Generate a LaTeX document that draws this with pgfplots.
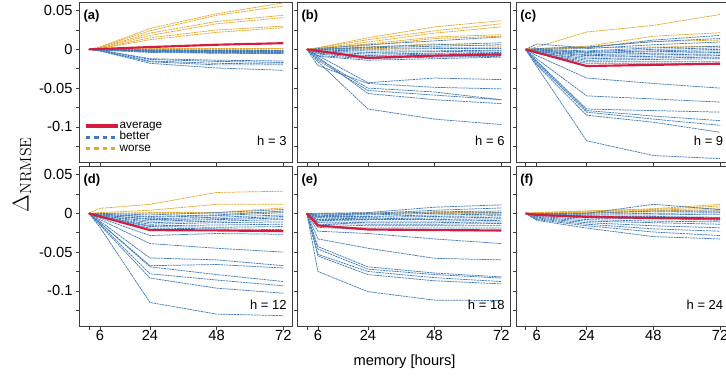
\documentclass[border=0pt]{standalone}
\usepackage[no-math]{fontspec}
\setmainfont{Liberation Sans}
\usepackage{pgfplots}
\pgfplotsset{compat=1.18}

\definecolor{avgred}{RGB}{214,28,62}
\definecolor{betterblue}{RGB}{66,124,184}
\definecolor{worseorange}{RGB}{228,166,38}
\definecolor{framegray}{RGB}{60,60,60}

\pgfplotsset{
  panel/.style={
    scale only axis, width=160.1pt, height=120pt, anchor=south west,
    xmin=-1.44, xmax=75.4, ymin=-0.146, ymax=0.0605,
    xtick={2,6,24,48,72},
    ytick={-0.125,-0.1,-0.075,-0.05,-0.025,0,0.025,0.05},
    xticklabels={}, yticklabels={},
    tick align=outside, tick pos=left, major tick length=2.3pt,
    axis line style={draw=framegray, line width=0.7pt},
    every tick/.style={draw=framegray, line width=0.5pt},
    tick label style={font=\fontsize{11}{13}\selectfont},
    xticklabel style={inner sep=0.3pt},
    yticklabel style={inner sep=0pt, xshift=-2.6pt},
  },
  bottomrow/.style={xticklabels={,6,24,48,72}},
  leftcol/.style={yticklabels={,-0.1,,-0.05,,0,,0.05}},
  better/.style={draw=betterblue, line width=0.55pt, dash pattern=on 1.6pt off 0.5pt, forget plot},
  worse/.style={draw=worseorange, line width=0.55pt, dash pattern=on 1.6pt off 0.5pt, forget plot},
  average/.style={draw=avgred, line width=1.6pt, forget plot},
}

% one curve per station: Delta at memory 2, 6, 24, 48, 72 h
\newcommand{\B}[4]{\addplot[better] coordinates {(2,0) (6,#1) (24,#2) (48,#3) (72,#4)};}
\newcommand{\W}[4]{\addplot[worse] coordinates {(2,0) (6,#1) (24,#2) (48,#3) (72,#4)};}
\newcommand{\A}[4]{\addplot[average] coordinates {(2,0) (6,#1) (24,#2) (48,#3) (72,#4)};}
\newcommand{\panellabel}[2]{%
  \node[anchor=north west, inner sep=0pt, font=\bfseries\fontsize{9.75}{11}\selectfont]
    at (rel axis cs:0,1) [xshift=3pt, yshift=-5.6pt] {#1};
  \node[anchor=base east, inner sep=0pt, font=\fontsize{9.75}{11}\selectfont]
    at (rel axis cs:1,0) [xshift=-4.5pt, yshift=12.4pt] {h = #2};}

\begin{document}
\begin{tikzpicture}

% ---------------- (a) h = 3
\begin{axis}[panel, leftcol, at={(59.475pt,162.375pt)},
  legend cell align=left,
  legend style={at={(rel axis cs:0,0)}, anchor=south west, xshift=3.5pt, yshift=6pt,
    draw=none, fill=none, inner sep=0pt, row sep=0pt,
    font=\fontsize{8.8}{9}\selectfont,
    nodes={inner sep=0pt, text height=6.3pt, text depth=2.2pt}},
  legend image code/.code={\draw[#1] (0pt,0pt) -- (24pt,0pt);},
  /tikz/every even column/.append style={column sep=4.3pt}]
\addlegendimage{draw=avgred, line width=2.6pt}
\addlegendentry{average}
\addlegendimage{draw=betterblue, line width=2.5pt, dash pattern=on 3.2pt off 3pt}
\addlegendentry{better}
\addlegendimage{draw=worseorange, line width=2.5pt, dash pattern=on 3.2pt off 3pt}
\addlegendentry{worse}
\W{0.003}{0.027}{0.046}{0.060}
\W{0.003}{0.024}{0.044}{0.056}
\W{0.002}{0.021}{0.036}{0.044}
\W{0.002}{0.018}{0.033}{0.041}
\W{0.001}{0.015}{0.025}{0.030}
\W{0.001}{0.0125}{0.022}{0.028}
\W{0.000}{0.001}{0.001}{0.001}
\W{0.000}{0.0005}{0.0005}{0.0008}
\B{0.000}{-0.0005}{-0.0008}{-0.001}
\B{0.000}{-0.001}{-0.001}{-0.0015}
\B{-0.0002}{-0.001}{-0.0015}{-0.002}
\B{-0.0003}{-0.0015}{-0.002}{-0.0025}
\B{-0.0003}{-0.002}{-0.0025}{-0.003}
\B{-0.0004}{-0.002}{-0.003}{-0.0035}
\B{-0.0005}{-0.0025}{-0.0035}{-0.004}
\B{-0.0005}{-0.003}{-0.004}{-0.0045}
\B{-0.0006}{-0.003}{-0.0045}{-0.005}
\B{-0.0008}{-0.004}{-0.005}{-0.0055}
\B{-0.001}{-0.012}{-0.014}{-0.015}
\B{-0.001}{-0.013}{-0.0155}{-0.017}
\B{-0.0015}{-0.015}{-0.018}{-0.019}
\B{-0.002}{-0.016}{-0.020}{-0.020}
\B{-0.002}{-0.018}{-0.024}{-0.027}
\A{0.0005}{0.003}{0.006}{0.008}
\panellabel{(a)}{3}
\end{axis}

% ---------------- (b) h = 6
\begin{axis}[panel, at={(222.975pt,162.375pt)}]
\W{0.002}{0.015}{0.029}{0.037}
\W{0.002}{0.0125}{0.024}{0.033}
\W{0.001}{0.0095}{0.021}{0.029}
\W{0.001}{0.007}{0.016}{0.019}
\W{0.001}{0.005}{0.014}{0.017}
\W{0.000}{0.003}{0.007}{0.004}
\W{0.000}{0.001}{0.002}{0.002}
\B{0.001}{0.006}{0.011}{0.016}
\B{0.000}{0.003}{0.006}{0.0085}
\B{0.000}{0.002}{0.004}{0.006}
\B{0.000}{0.000}{0.001}{0.001}
\B{-0.001}{-0.002}{-0.002}{-0.001}
\B{-0.002}{-0.004}{-0.003}{-0.002}
\B{-0.003}{-0.006}{-0.005}{-0.004}
\B{-0.004}{-0.008}{-0.006}{-0.005}
\B{-0.005}{-0.009}{-0.008}{-0.007}
\B{-0.006}{-0.011}{-0.009}{-0.008}
\B{-0.008}{-0.012}{-0.010}{-0.009}
\B{-0.009}{-0.014}{-0.012}{-0.010}
\B{-0.008}{-0.043}{-0.037}{-0.039}
\B{-0.021}{-0.044}{-0.049}{-0.051}
\B{-0.012}{-0.050}{-0.055}{-0.065}
\B{-0.014}{-0.053}{-0.059}{-0.065}
\B{-0.010}{-0.057}{-0.065}{-0.070}
\B{-0.016}{-0.077}{-0.090}{-0.097}
\A{-0.002}{-0.011}{-0.008}{-0.0065}
\panellabel{(b)}{6}
\end{axis}

% ---------------- (c) h = 9
\begin{axis}[panel, at={(387pt,162.375pt)}]
\W{0.003}{0.0224}{0.031}{0.045}
\W{0.001}{0.004}{0.017}{0.0215}
\W{0.001}{0.003}{0.010}{0.012}
\W{0.000}{0.002}{0.003}{0.004}
\B{0.007}{0.002}{0.012}{0.018}
\B{0.001}{0.003}{0.010}{0.014}
\B{0.000}{0.001}{0.006}{0.0095}
\B{0.000}{-0.002}{0.002}{0.004}
\B{-0.001}{-0.003}{0.000}{0.002}
\B{-0.001}{-0.004}{-0.002}{0.000}
\B{-0.002}{-0.005}{-0.003}{-0.002}
\B{-0.002}{-0.007}{-0.005}{-0.004}
\B{-0.003}{-0.008}{-0.007}{-0.006}
\B{-0.003}{-0.010}{-0.009}{-0.008}
\B{-0.004}{-0.012}{-0.011}{-0.010}
\B{-0.004}{-0.014}{-0.013}{-0.012}
\B{-0.005}{-0.016}{-0.016}{-0.016}
\B{-0.005}{-0.018}{-0.018}{-0.018}
\B{-0.008}{-0.037}{-0.044}{-0.050}
\B{-0.012}{-0.060}{-0.064}{-0.068}
\B{-0.015}{-0.077}{-0.079}{-0.081}
\B{-0.016}{-0.079}{-0.086}{-0.092}
\B{-0.018}{-0.081}{-0.090}{-0.098}
\B{-0.020}{-0.085}{-0.094}{-0.107}
\B{-0.022}{-0.118}{-0.137}{-0.141}
\A{-0.004}{-0.0215}{-0.020}{-0.0185}
\panellabel{(c)}{9}
\end{axis}

% ---------------- (d) h = 12
\begin{axis}[panel, leftcol, bottomrow, at={(59.475pt,39.375pt)}]
\W{0.0065}{0.0117}{0.027}{0.0286}
\W{0.001}{0.004}{0.0117}{0.0117}
\W{0.000}{0.001}{0.001}{0.007}
\W{0.000}{0.000}{0.000}{0.002}
\B{0.000}{-0.002}{0.001}{0.005}
\B{-0.001}{-0.004}{-0.002}{0.003}
\B{-0.001}{-0.005}{-0.003}{0.001}
\B{-0.002}{-0.007}{-0.005}{-0.002}
\B{-0.002}{-0.008}{-0.007}{-0.004}
\B{-0.003}{-0.010}{-0.008}{-0.006}
\B{-0.003}{-0.012}{-0.010}{-0.008}
\B{-0.004}{-0.014}{-0.012}{-0.011}
\B{-0.004}{-0.016}{-0.015}{-0.014}
\B{-0.005}{-0.017}{-0.018}{-0.017}
\B{-0.005}{-0.019}{-0.020}{-0.021}
\B{-0.006}{-0.0286}{-0.026}{-0.027}
\B{-0.008}{-0.039}{-0.045}{-0.050}
\B{-0.010}{-0.0576}{-0.060}{-0.0675}
\B{-0.012}{-0.0675}{-0.066}{-0.0705}
\B{-0.012}{-0.069}{-0.079}{-0.088}
\B{-0.014}{-0.078}{-0.086}{-0.0935}
\B{-0.015}{-0.0835}{-0.0965}{-0.103}
\B{-0.018}{-0.115}{-0.130}{-0.132}
\A{-0.004}{-0.0216}{-0.022}{-0.023}
\panellabel{(d)}{12}
\end{axis}

% ---------------- (e) h = 18
\begin{axis}[panel, bottomrow, at={(222.975pt,39.375pt)}]
\W{0.000}{0.000}{0.001}{0.001}
\W{0.000}{0.0005}{0.0005}{0.000}
\B{0.000}{0.001}{0.008}{0.011}
\B{-0.001}{0.000}{0.004}{0.007}
\B{-0.002}{-0.001}{0.002}{0.003}
\B{-0.003}{-0.002}{0.000}{0.001}
\B{-0.004}{-0.004}{-0.002}{-0.001}
\B{-0.005}{-0.005}{-0.004}{-0.003}
\B{-0.006}{-0.007}{-0.006}{-0.005}
\B{-0.008}{-0.008}{-0.008}{-0.007}
\B{-0.009}{-0.010}{-0.010}{-0.009}
\B{-0.011}{-0.012}{-0.012}{-0.011}
\B{-0.012}{-0.014}{-0.014}{-0.013}
\B{-0.014}{-0.016}{-0.016}{-0.016}
\B{-0.016}{-0.019}{-0.019}{-0.019}
\B{-0.018}{-0.021}{-0.022}{-0.023}
\B{-0.023}{-0.026}{-0.033}{-0.039}
\B{-0.033}{-0.045}{-0.058}{-0.060}
\B{-0.043}{-0.069}{-0.077}{-0.082}
\B{-0.046}{-0.072}{-0.079}{-0.0835}
\B{-0.053}{-0.075}{-0.083}{-0.088}
\B{-0.055}{-0.079}{-0.087}{-0.091}
\B{-0.075}{-0.101}{-0.112}{-0.1125}
\A{-0.0156}{-0.0208}{-0.0216}{-0.022}
\panellabel{(e)}{18}
\end{axis}

% ---------------- (f) h = 24
\begin{axis}[panel, bottomrow, at={(387pt,39.375pt)}]
\W{0.001}{0.003}{0.006}{0.0115}
\W{0.001}{0.003}{0.005}{0.0095}
\W{0.000}{0.002}{0.004}{0.007}
\W{0.000}{0.001}{0.003}{0.005}
\W{0.000}{0.001}{0.002}{0.003}
\B{-0.001}{0.000}{0.0117}{0.005}
\B{0.000}{0.000}{0.003}{0.003}
\B{0.000}{-0.001}{0.000}{0.001}
\B{-0.001}{-0.002}{-0.002}{-0.001}
\B{-0.002}{-0.003}{-0.006}{-0.009}
\B{-0.002}{-0.004}{-0.004}{-0.005}
\B{-0.003}{-0.006}{-0.007}{-0.008}
\B{-0.004}{-0.008}{-0.010}{-0.011}
\B{-0.005}{-0.010}{-0.012}{-0.014}
\B{-0.006}{-0.012}{-0.016}{-0.0186}
\B{-0.007}{-0.014}{-0.020}{-0.023}
\B{-0.008}{-0.016}{-0.024}{-0.0286}
\B{-0.009}{-0.019}{-0.030}{-0.033}
\A{-0.002}{-0.0045}{-0.006}{-0.0065}
\panellabel{(f)}{24}
\end{axis}

% shared axis titles
\node[font=\fontsize{11}{13}\selectfont] at (303.4pt,12.75pt) {memory [hours]};
\node[rotate=90, inner sep=0pt] at (16.5pt,153pt)
  {{\fontsize{16}{18}\selectfont$\Delta$}\raisebox{-2pt}{\fontsize{12.5}{14}\selectfont$\mathrm{NRMSE}$}};

\pgfresetboundingbox
\path[use as bounding box] (0pt,0pt) rectangle (544.5pt,284.25pt);
\end{tikzpicture}
\end{document}
